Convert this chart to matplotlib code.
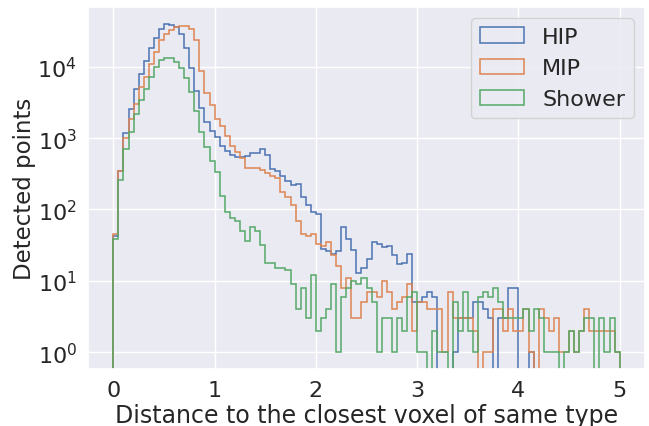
import numpy as np
import matplotlib
matplotlib.use("Agg")
import matplotlib.pyplot as plt
import seaborn as sns

# counts per bin, 100 bins of width 0.05 from 0 to 5
hip = [42, 350, 1200, 2600, 4900, 7900, 12200, 18100, 25200, 33700,
       39600, 38400, 35600, 28700, 18100, 9500, 4610, 2650, 1700, 1245,
       1025, 784, 667, 580, 550, 550, 568, 612, 612, 705,
       580, 370, 343, 298, 254, 221, 228, 148, 116, 93,
       87, 28, 26, 24, 26, 56, 39, 27, 13, 15,
       20, 35, 33, 30, 31, 23, 17, 18, 24, 5,
       5, 6, 7, 6, 0, 0, 0, 1, 3, 3,
       3, 5, 5, 4, 3, 0, 3, 3, 8, 8,
       0, 0, 1, 0, 0, 0, 0, 0, 0, 0,
       0, 0, 0, 0, 0, 0, 0, 0, 0, 0]
mip = [46, 350, 990, 1850, 3000, 5150, 7100, 10950, 15900, 23900,
       28600, 33000, 36700, 37500, 37500, 34400, 23900, 8790, 4270, 2900,
       1850, 1500, 1080, 785, 632, 527, 381, 385, 381, 358,
       328, 298, 280, 174, 148, 116, 68, 46, 43, 45,
       33, 31, 35, 23, 16, 8, 11, 3, 3, 5,
       7, 7, 6, 10, 7, 4, 5, 6, 9, 2,
       5, 5, 4, 4, 4, 1, 7, 3, 3, 3,
       3, 2, 0, 1, 1, 4, 4, 2, 4, 2,
       2, 4, 1, 0, 4, 3, 2, 3, 1, 1,
       2, 1, 2, 4, 2, 2, 2, 2, 2, 1]
shower = [38, 262, 705, 1230, 2180, 3420, 4880, 7100, 9800, 12500,
          13500, 13100, 11700, 9500, 7000, 4500, 2400, 1205, 760, 483,
          332, 153, 91, 76, 68, 50, 36, 56, 50, 32,
          18, 18, 15, 15, 14, 9, 4, 8, 3, 12,
          2, 3, 4, 9, 1, 6, 8, 10, 9, 11,
          8, 5, 1, 3, 3, 1, 3, 2, 6, 7,
          1, 1, 0, 2, 1, 1, 0, 5, 2, 7,
          2, 1, 6, 7, 6, 8, 5, 3, 3, 3,
          3, 4, 2, 4, 3, 1, 1, 1, 0, 1,
          2, 1, 2, 3, 3, 0, 3, 1, 3, 1]
labels = ["HIP", "MIP", "Shower"]

sns.set_theme(style="darkgrid")

bins = np.linspace(0, 5, 101)
centers = 0.5 * (bins[:-1] + bins[1:])

fig = plt.figure(figsize=(6.49, 4.27), dpi=100)
ax = fig.add_axes([88 / 649, 1 - 370 / 427, (645 - 88) / 649, (370 - 8) / 427])

colors = sns.color_palette("deep")
for counts, lab, c in zip([hip, mip, shower], labels, colors):
    ax.hist(centers, bins=bins, weights=counts, histtype="step", log=True,
            color=c, label=lab, linewidth=1.1)

ax.set_xlim(-0.25, 5.25)
ax.set_ylim(0.58, 6.9e4)
ax.set_xticks([0, 1, 2, 3, 4, 5])
ax.tick_params(labelsize=16, pad=2)
ax.set_xlabel("Distance to the closest voxel of same type", fontsize=17, labelpad=2)
ax.set_ylabel("Detected points", fontsize=16.5, labelpad=1)
ax.legend(loc="upper right", fontsize=16)

fig.savefig("out.png", dpi=100)
